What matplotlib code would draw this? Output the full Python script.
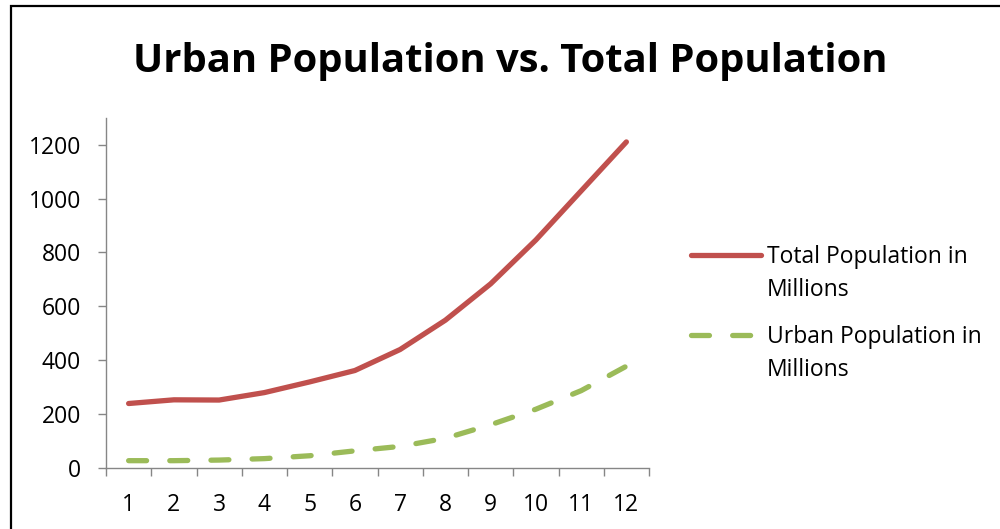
import matplotlib
matplotlib.use("Agg")
import matplotlib.pyplot as plt
from matplotlib.patches import Rectangle

# census decades 1..12
periods = list(range(1, 13))
total_pop = [238.4, 252.1, 251.3, 279.0, 318.7, 361.1, 439.2, 548.2, 683.3, 846.4, 1028.7, 1210.9]
urban_pop = [25.9, 25.9, 28.1, 33.5, 44.2, 62.4, 78.9, 109.1, 159.5, 217.2, 286.1, 377.1]
y_ticks = [0, 200, 400, 600, 800, 1000, 1200]

RED = "#C0504D"
GREEN = "#9BBB59"
AXIS = "#868686"
FONT = ["Open Sans", "DejaVu Sans"]

plt.rcParams["font.family"] = FONT

fig = plt.figure(figsize=(10, 5.29), dpi=100)
ax = fig.add_axes([0.106, 0.116, 0.543, 0.661])

ax.plot(periods, total_pop, color=RED, lw=3.8, solid_capstyle="round",
        label="Total Population in\nMillions")
ax.plot(periods, urban_pop, color=GREEN, lw=3.8, dash_capstyle="round",
        dashes=(3.4, 4.4), label="Urban Population in\nMillions")

ax.set_xlim(0.5, 12.5)
ax.set_ylim(0, 1300)

ax.set_yticks(y_ticks)
ax.set_xticks(periods)
ax.set_xticks([p - 0.5 for p in periods] + [12.5], minor=True)
ax.tick_params(axis="y", which="major", length=6, width=1, color=AXIS,
               labelsize=16.5, pad=12)
ax.tick_params(axis="x", which="major", length=0, labelsize=16.5, pad=18)
ax.tick_params(axis="x", which="minor", length=6, width=1, color=AXIS)

for side in ("top", "right"):
    ax.spines[side].set_visible(False)
for side in ("left", "bottom"):
    ax.spines[side].set_color(AXIS)
    ax.spines[side].set_linewidth(1)

leg = ax.legend(loc="upper left", bbox_to_anchor=(1.061, 0.662), frameon=False,
                fontsize=16.5, handlelength=3.05, handletextpad=0.25,
                labelspacing=1.0, borderaxespad=0)
for t in leg.get_texts():
    t.set_linespacing(1.5)
# Excel puts the key next to the first line of a wrapped label
for h in leg.legend_handles:
    h.set_ydata([y + 14.5 for y in h.get_ydata()])

fig.text(0.51, 0.864, "Urban Population vs. Total Population", ha="center",
         va="baseline", fontsize=28.8, fontweight="bold")

# chart border (cropped on right and bottom in the source)
fig.patches.append(Rectangle((0.0105, -0.1), 1.2, 1.089, transform=fig.transFigure,
                             fill=False, lw=1.6, edgecolor="black"))

fig.savefig("out.png", dpi=100)
